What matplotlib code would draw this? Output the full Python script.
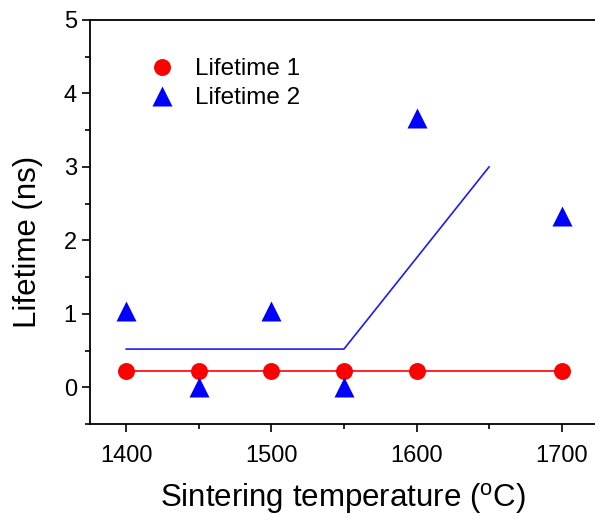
import matplotlib
matplotlib.use("Agg")
import matplotlib.pyplot as plt
from matplotlib.ticker import MultipleLocator

plt.rcParams["font.family"] = ["Liberation Sans", "DejaVu Sans"]
plt.rcParams["mathtext.default"] = "regular"

# data
temps = [1400, 1450, 1500, 1550, 1600, 1700]
lifetime1 = [0.22, 0.22, 0.22, 0.22, 0.22, 0.22]
lifetime2 = [1.04, 0.01, 1.04, 0.01, 3.67, 2.33]

# guide lines
fit1_x = [1400, 1700]
fit1_y = [0.22, 0.22]
fit2_x = [1400, 1550, 1650]
fit2_y = [0.52, 0.52, 3.0]

fig = plt.figure(figsize=(5.95, 5.21), dpi=100)
ax = fig.add_axes([90 / 595, 97 / 521, 505 / 595, 404 / 521])

ax.plot(fit1_x, fit1_y, color="red", lw=1.2, zorder=2)
ax.plot(fit2_x, fit2_y, color="#1a1aff", lw=1.2, zorder=2)
ax.plot(temps, lifetime1, "o", color="red", ms=12.2, mec="none",
        label="Lifetime 1", zorder=3)
ax.plot(temps, lifetime2, "^", color="blue", ms=14, mec="none",
        label="Lifetime 2", zorder=3)

ax.set_xlim(1375, 1723)
ax.set_ylim(-0.5, 5)
ax.xaxis.set_major_locator(MultipleLocator(100))
ax.xaxis.set_minor_locator(MultipleLocator(50))
ax.yaxis.set_major_locator(MultipleLocator(1))
ax.yaxis.set_minor_locator(MultipleLocator(0.5))
ax.tick_params(which="major", direction="out", length=6, width=1.2,
               labelsize=17, top=False, right=False)
ax.tick_params(which="minor", direction="out", length=3.5, width=1.2,
               top=False, right=False)
ax.tick_params(axis="x", pad=9)
for s in ax.spines.values():
    s.set_linewidth(1.3)
ax.spines["right"].set_visible(False)

ax.set_xlabel(r"Sintering temperature ($^{o}$C)", fontsize=22.5, labelpad=10)
ax.set_ylabel("Lifetime (ns)", fontsize=22.5)
ax.yaxis.set_label_coords(-0.093, 0.45)

ax.legend(loc="upper left", bbox_to_anchor=(0.07, 0.96), frameon=False,
          fontsize=17.5, handletextpad=0.75, labelspacing=0.3,
          handlelength=1.2)

fig.savefig("out.png", dpi=100)
